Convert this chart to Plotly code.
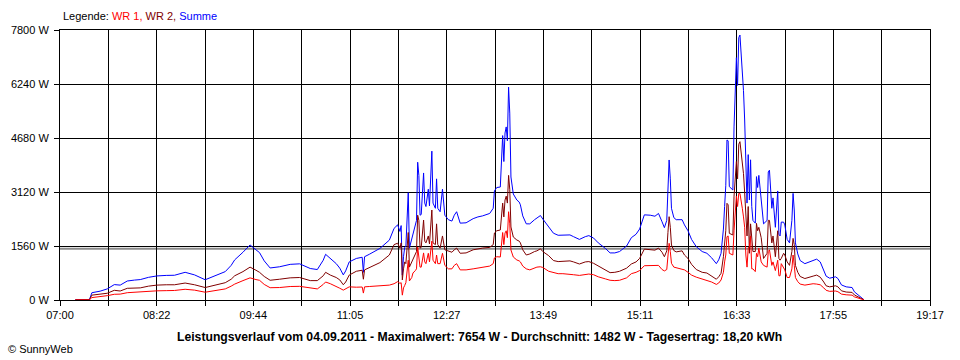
import plotly.graph_objects as go
from datetime import datetime

DAY = "2011-09-04"

times = [
    "07:13", "07:25", "07:27", "07:34", "07:40", "07:46", "07:51", "07:57", "08:03", "08:08",
    "08:15", "08:22", "08:30", "08:37", "08:46", "08:54", "09:03", "09:11", "09:20", "09:25",
    "09:28", "09:35", "09:41", "09:46", "09:49", "09:53", "09:58", "10:06", "10:15", "10:23",
    "10:32", "10:38", "10:43", "10:45", "10:49", "10:54", "10:57", "11:00", "11:02", "11:05",
    "11:11", "11:16", "11:17", "11:18", "11:22", "11:31", "11:39", "11:43", "11:46", "11:48",
    "11:49", "11:50", "11:51", "11:52", "11:53", "11:55", "11:56", "11:58", "11:59", "12:01",
    "12:02", "12:03", "12:04", "12:05", "12:06", "12:08", "12:09", "12:10", "12:12", "12:13",
    "12:15", "12:16", "12:18", "12:19", "12:20", "12:22", "12:24", "12:26", "12:29", "12:32",
    "12:34", "12:36", "12:39", "12:44", "12:50", "12:54", "12:58", "13:04", "13:07", "13:08",
    "13:10", "13:13", "13:15", "13:16", "13:17", "13:18", "13:19", "13:20", "13:21", "13:22",
    "13:24", "13:27", "13:29", "13:30", "13:32", "13:35", "13:38", "13:42", "13:44", "13:47",
    "13:49", "13:54", "13:58", "14:02", "14:06", "14:12", "14:15", "14:20", "14:25", "14:28",
    "14:32", "14:36", "14:42", "14:46", "14:50", "14:54", "15:00", "15:04", "15:08", "15:11",
    "15:15", "15:20", "15:24", "15:27", "15:30", "15:32", "15:34", "15:35", "15:36", "15:37",
    "15:38", "15:40", "15:42", "15:47", "15:49", "15:52", "15:55", "15:59", "16:04", "16:08",
    "16:12", "16:16", "16:18", "16:20", "16:22", "16:23", "16:24", "16:25", "16:26", "16:27",
    "16:30", "16:31", "16:32", "16:33", "16:34", "16:35", "16:36", "16:37", "16:38", "16:39",
    "16:40", "16:41", "16:42", "16:43", "16:44", "16:45", "16:46", "16:47", "16:49", "16:50",
    "16:51", "16:52", "16:54", "16:56", "16:59", "17:00", "17:01", "17:03", "17:04", "17:06",
    "17:08", "17:09", "17:10", "17:11", "17:13", "17:14", "17:16", "17:18", "17:20", "17:21",
    "17:22", "17:23", "17:25", "17:27", "17:31", "17:35", "17:38", "17:41", "17:44", "17:47",
    "17:49", "17:52", "17:57", "17:59", "18:02", "18:06", "18:11", "18:13", "18:16", "18:19",
    "18:21",
]

wr2 = [
    5, 10, 140, 160, 195, 280, 260, 338, 350, 350,
    400, 430, 440, 440, 490, 440, 360, 420, 500, 600,
    700, 820, 950, 860, 800, 680, 570, 600, 640, 650,
    560, 560, 700, 800, 720, 650, 580, 440, 520, 720,
    830, 860, 600, 870, 930, 1080, 1300, 1600, 1640, 1500,
    1650, 580, 900, 1100, 1050, 1950, 950, 1100, 1150, 1300,
    1400, 2450, 2300, 1500, 1520, 2310, 1700, 1650, 1850, 1620,
    2600, 1650, 1600, 2200, 1600, 1500, 1850, 1450, 1420, 1380,
    1450, 1500, 1350, 1360, 1450, 1480, 1500, 1520, 1600, 1935,
    2000, 2022, 2800, 2400, 2889, 3000, 2800, 3600, 3200, 2109,
    1820, 1733, 1700, 1650, 1450, 1300, 1330, 1400, 1420, 1480,
    1400, 1280, 1140, 1110, 1120, 1130, 1100, 1040, 1100, 1110,
    1060, 980, 880, 790, 800, 830, 920, 1040, 1100, 1200,
    1470, 1460, 1440, 1500, 1380, 1250, 1420, 1950, 2407, 2100,
    1589, 1430, 1390, 1420, 1300, 1200, 1030, 880, 800, 780,
    700, 600, 670, 771, 1250, 1600, 2000, 2793, 2750, 1926,
    1878, 3000, 3400, 4000, 3500, 4500, 4574, 4300, 3900, 3650,
    3100, 2500, 1850, 2700, 1350, 2200, 1800, 1400, 1400, 2215,
    2000, 2100, 1800, 1200, 1350, 2300, 2300, 1650, 1850, 1250,
    2000, 1200, 1150, 1200, 1349, 1300, 1100, 1000, 1400, 1780,
    1600, 1000, 800, 680, 620, 650, 690, 720, 660, 520,
    410, 380, 410, 380, 265, 230, 220, 145, 85, 30,
    5,
]

wr1 = [
    5, 5, 70, 95, 125, 165, 170, 211, 225, 240,
    255, 265, 270, 275, 310, 285, 225, 265, 320, 400,
    460, 560, 640, 590, 570, 450, 355, 360, 390, 395,
    350, 320, 450, 520, 470, 400, 340, 285, 320, 380,
    370, 375, 200, 380, 390, 410, 430, 470, 530, 480,
    500, 140, 350, 420, 500, 1150, 550, 650, 780, 850,
    900, 1530, 1300, 950, 950, 1360, 1100, 1050, 1350, 1100,
    1700, 1150, 1050, 1300, 1050, 1050, 1350, 1000, 900, 900,
    1000, 1050, 870, 870, 900, 920, 930, 980, 1050, 1215,
    1250, 1242, 1950, 1600, 1935, 2000, 1800, 2550, 2200, 1444,
    1242, 1156, 1130, 1100, 980, 900, 870, 920, 950, 960,
    940, 830, 790, 760, 760, 750, 730, 710, 730, 750,
    730, 670, 610, 570, 560, 570, 640, 760, 800, 850,
    990, 990, 980, 1000, 880, 840, 880, 1300, 1638, 1400,
    1060, 950, 930, 900, 870, 800, 720, 660, 600, 570,
    520, 450, 490, 578, 800, 1100, 1300, 1829, 1850, 1349,
    1300, 2000, 2500, 3000, 2700, 3080, 3080, 2900, 2650, 2400,
    2100, 1300, 950, 1500, 1540, 1850, 900, 900, 820, 1349,
    1250, 1500, 1100, 1000, 950, 1400, 1450, 1000, 1100, 850,
    1150, 700, 700, 1050, 900, 870, 650, 650, 900, 1300,
    1000, 650, 530, 460, 430, 450, 470, 460, 440, 350,
    280, 250, 260, 240, 170, 150, 140, 90, 55, 20,
    5,
]

summe = [a + b for a, b in zip(wr1, wr2)]
average_w = 1482

y_ticks = [0, 1560, 3120, 4680, 6240, 7800]
y_labels = ["0 W", "1560 W", "3120 W", "4680 W", "6240 W", "7800 W"]
x_labels = ["07:00", "08:22", "09:44", "11:05", "12:27", "13:49", "15:11", "16:33", "17:55", "19:17"]

x_start = datetime(2011, 9, 4, 7, 0)
x_end = datetime(2011, 9, 4, 19, 17)
n_div = 18
step = (x_end - x_start) / n_div
tickvals = [(x_start + step * k).strftime("%Y-%m-%d %H:%M:%S.%f") for k in range(n_div + 1)]
ticktext = [x_labels[k // 2] if k % 2 == 0 else "" for k in range(n_div + 1)]

x = [f"{DAY} {t}" for t in times]

FONT = "Liberation Sans, Arial, sans-serif"

fig = go.Figure()
fig.add_trace(go.Scatter(x=x, y=summe, mode="lines", name="Summe",
                         line=dict(color="#0000FF", width=1)))
fig.add_trace(go.Scatter(x=x, y=wr2, mode="lines", name="WR 2",
                         line=dict(color="#800000", width=1)))
fig.add_trace(go.Scatter(x=x, y=wr1, mode="lines", name="WR 1",
                         line=dict(color="#FF0000", width=1)))

fig.add_shape(type="line", xref="paper", x0=0, x1=1, yref="y", y0=average_w, y1=average_w,
              line=dict(color="#8c8c8c", width=2), layer="below")

fig.update_layout(
    width=960, height=360,
    margin=dict(l=60, r=30, t=30, b=60),
    paper_bgcolor="white", plot_bgcolor="white",
    showlegend=False,
    font=dict(family=FONT, size=11, color="black"),
    xaxis=dict(
        type="date",
        range=[x_start.strftime("%Y-%m-%d %H:%M"), x_end.strftime("%Y-%m-%d %H:%M")],
        tickmode="array", tickvals=tickvals, ticktext=ticktext,
        showgrid=True, gridcolor="black", gridwidth=1,
        ticks="outside", ticklen=5, tickcolor="black", tickwidth=1,
        showline=True, linecolor="black", linewidth=1, mirror=True,
        zeroline=False, tickfont=dict(family=FONT, size=11, color="black"),
    ),
    yaxis=dict(
        range=[0, 7800],
        tickmode="array", tickvals=y_ticks, ticktext=y_labels,
        showgrid=True, gridcolor="black", gridwidth=1,
        ticks="outside", ticklen=5, tickcolor="black", tickwidth=1,
        ticklabelstandoff=3,
        showline=True, linecolor="black", linewidth=1, mirror=True,
        zeroline=False, tickfont=dict(family=FONT, size=11, color="black"),
    ),
    annotations=[
        dict(xref="paper", yref="paper", x=0.001, y=1.052, xanchor="left", yanchor="middle",
             showarrow=False, font=dict(family=FONT, size=11),
             text="Legende: <span style='color:#FF0000'>WR 1,</span> "
                  "<span style='color:#800000'>WR 2,</span> "
                  "<span style='color:#0000FF'>Summe</span>"),
        dict(xref="paper", yref="paper", x=0.4824, y=-0.137, xanchor="center", yanchor="middle",
             showarrow=False, font=dict(family=FONT, size=12.2, color="black"),
             text="<b>Leistungsverlauf vom 04.09.2011 - Maximalwert: 7654 W - Durchschnitt: "
                  "1482 W - Tagesertrag: 18,20 kWh</b>"),
        dict(xref="paper", yref="paper", x=-0.062, y=-0.1815, xanchor="left", yanchor="middle",
             showarrow=False, font=dict(family=FONT, size=11, color="black"),
             text="© SunnyWeb"),
    ],
)

fig.write_html("out.html", config={"displayModeBar": False},
               post_script="document.body.style.margin='0';document.body.style.overflow='hidden';")
